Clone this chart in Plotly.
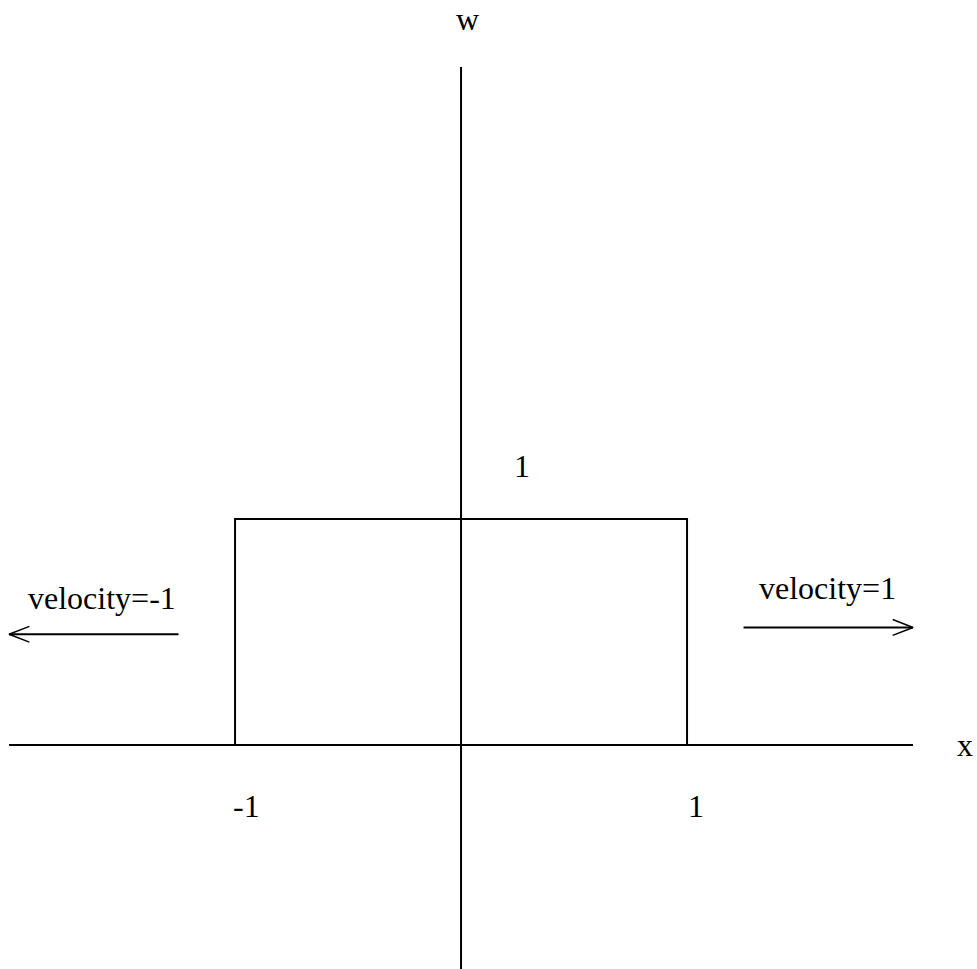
import plotly.graph_objects as go

# ---- data (in problem units) ----
box_x = [-1, -1, 1, 1]          # rectangular pulse w(x,0)=1 on [-1,1]
box_y = [0, 1, 1, 0]
x_axis_range = [-2.0, 2.0]
w_axis_range = [-1.0, 3.0]
arrow_left = [-1.25, -2.0]      # velocity = -1 arrow (start, end)
arrow_left_y = 0.49
arrow_right = [1.25, 2.0]       # velocity = 1 arrow (start, end)
arrow_right_y = 0.52
tick_labels = ["-1", "1", "1"]
tick_pos = [(-0.95, -0.27), (1.04, -0.27), (0.27, 1.235)]
velocity_labels = ["velocity=-1", "velocity=1"]
velocity_pos = [(-1.59, 0.65), (1.62, 0.695)]
axis_names = ["x", "w"]
axis_name_pos = [(2.23, 0.0), (0.03, 3.21)]

FONT = "Liberation Serif, Times New Roman, serif"
FS = 32
LW = 2
fig = go.Figure()

# axes
fig.add_trace(go.Scatter(x=x_axis_range, y=[0, 0], mode="lines",
                         line=dict(color="black", width=LW), hoverinfo="skip"))
fig.add_trace(go.Scatter(x=[0, 0], y=w_axis_range, mode="lines",
                         line=dict(color="black", width=LW), hoverinfo="skip"))
# box
fig.add_trace(go.Scatter(x=box_x, y=box_y, mode="lines",
                         line=dict(color="black", width=LW), hoverinfo="skip"))

# arrows (shaft + open barbs)
def arrow(x0, x1, y):
    d = 1 if x1 > x0 else -1
    L, H = 0.09, 0.035
    fig.add_trace(go.Scatter(x=[x0, x1], y=[y, y], mode="lines",
                             line=dict(color="black", width=LW), hoverinfo="skip"))
    fig.add_trace(go.Scatter(x=[x1 - d * L, x1, x1 - d * L], y=[y + H, y, y - H],
                             mode="lines", line=dict(color="black", width=1.5),
                             hoverinfo="skip"))

arrow(arrow_left[0], arrow_left[1], arrow_left_y)
arrow(arrow_right[0], arrow_right[1], arrow_right_y)

ann = []
for labels, positions in ((tick_labels, tick_pos),
                          (velocity_labels, velocity_pos),
                          (axis_names, axis_name_pos)):
    for t, (px, py) in zip(labels, positions):
        ann.append(dict(x=px, y=py, text=t, showarrow=False,
                        font=dict(family=FONT, size=FS, color="black")))

fig.update_layout(
    width=977, height=969,
    margin=dict(l=0, r=0, t=0, b=0),
    paper_bgcolor="white", plot_bgcolor="white",
    showlegend=False,
    annotations=ann,
    xaxis=dict(range=[-2.04, 2.283], visible=False, fixedrange=True),
    yaxis=dict(range=[-0.991, 3.296], visible=False, fixedrange=True),
)
fig.write_html("out.html",
               config={"displayModeBar": False, "staticPlot": True},
               post_script="document.body.style.margin='0';"
                           "document.body.style.overflow='hidden';")
